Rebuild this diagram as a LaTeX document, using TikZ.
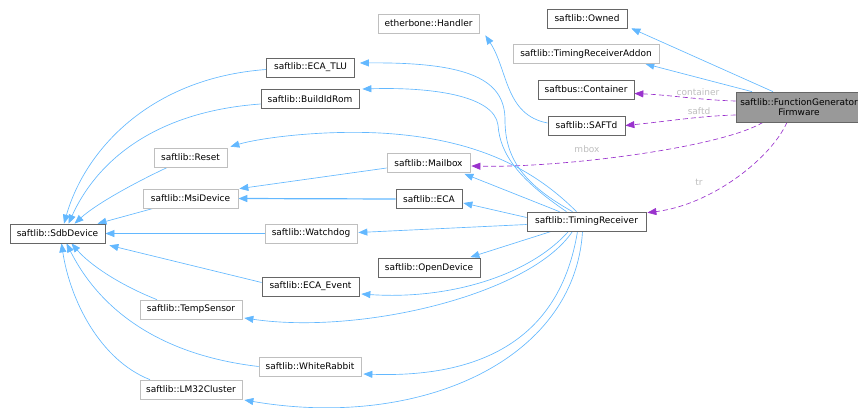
\documentclass[tikz,border=0pt]{standalone}
\usepackage{fontspec}
\setmainfont{DejaVu Sans}
\usetikzlibrary{arrows.meta,backgrounds}

\definecolor{edgeblue}{HTML}{63B8FF}
\definecolor{edgepurple}{HTML}{9A32CD}
\definecolor{darkframe}{HTML}{666666}
\definecolor{lightframe}{HTML}{BFBFBF}
\definecolor{labelgray}{HTML}{BEBEBE}
\definecolor{hilite}{HTML}{999999}

\tikzset{
  cls/.style={draw, fill=white, inner sep=0pt, minimum height=19pt,
              line width=0.7pt, font=\fontsize{9}{10.5}\selectfont},
  dk/.style={cls, draw=darkframe},
  lt/.style={cls, draw=lightframe},
  inherit/.style={draw=edgeblue, line width=0.65pt,
                  -{Triangle[length=9pt,width=7pt]}},
  uses/.style={draw=edgepurple, line width=0.65pt, dash pattern=on 5pt off 3pt,
               -{Triangle[length=9pt,width=7pt]}},
  elabel/.style={text=labelgray, inner sep=0pt, font=\fontsize{9}{10}\selectfont},
}

\begin{document}
\begin{tikzpicture}[x=1pt,y=-1pt]
\useasboundingbox (0,0) rectangle (858,407);

% class boxes
\node[dk, minimum width=80pt]  (owned)      at (587,18.5)   {saftlib::Owned};
\node[lt, minimum width=146pt] (tra)        at (586,54)     {saftlib::TimingReceiverAddon};
\node[dk, minimum width=96pt]  (container)  at (586,89.5)   {saftbus::Container};
\node[dk, minimum width=77pt]  (saftd)      at (586.5,125.5){saftlib::SAFTd};
\node[dk, fill=hilite, minimum width=126pt, minimum height=30pt, align=center]
                               (fg)         at (799,107)    {saftlib::FunctionGenerator\\Firmware};
\node[lt, minimum width=101pt] (handler)    at (428.5,23.5) {etherbone::Handler};
\node[dk, minimum width=88pt]  (ecatlu)     at (310.5,67.5) {saftlib::ECA\_TLU};
\node[dk, minimum width=98pt]  (buildid)    at (310,99)     {saftlib::BuildIdRom};
\node[lt, minimum width=73pt]  (reset)      at (190.5,157.5){saftlib::Reset};
\node[lt, minimum width=95pt]  (msi)        at (190.5,198.5){saftlib::MsiDevice};
\node[dk, minimum width=95pt]  (sdb)        at (57.5,233.5) {saftlib::SdbDevice};
\node[lt, minimum width=92pt]  (watchdog)   at (311,233.5)  {saftlib::Watchdog};
\node[lt, minimum width=83pt]  (mailbox)    at (428.5,163)  {saftlib::Mailbox};
\node[dk, minimum width=66pt]  (eca)        at (429,199)    {saftlib::ECA};
\node[dk, minimum width=119pt] (tr)         at (586.5,221.5){saftlib::TimingReceiver};
\node[dk, minimum width=102pt] (opendev)    at (429,268)    {saftlib::OpenDevice};
\node[dk, minimum width=97pt]  (ecaevent)   at (310.5,286.5){saftlib::ECA\_Event};
\node[lt, minimum width=102pt] (tempsensor) at (191,309.5)  {saftlib::TempSensor};
\node[lt, minimum width=102pt] (whiterabbit)at (310,366.5)  {saftlib::WhiteRabbit};
\node[lt, minimum width=102pt] (lm32)       at (191,389.5)  {saftlib::LM32Cluster};

% member labels
\node[elabel] (lcontainer) at (698,92)  {container};
\node[elabel] (lsaftd)     at (699,111) {saftd};
\node[elabel] (lmbox)      at (587,149) {mbox};
\node[elabel] (ltr)        at (699,182) {tr};

\begin{pgfonlayer}{background}
% FunctionGeneratorFirmware
\draw[inherit] ([xshift=-26pt]fg.north) -- ([xshift=4pt]owned.south east);
\draw[inherit] ([xshift=-47pt]fg.north) -- ([xshift=-14pt]tra.south east);
\draw[uses] ([yshift=6pt]fg.west) .. controls (700,100) and (670,95) .. ([yshift=-4pt]container.east);
\draw[uses] ([yshift=-8pt]fg.west) .. controls (700,116) and (670,121) .. (saftd.east);
\draw[uses] ([xshift=-36pt]fg.south) .. controls (720,148) and (560,168) .. ([xshift=1pt,yshift=-3pt]mailbox.east);
\draw[uses] ([xshift=-12pt]fg.south) .. controls (770,160) and (710,205) .. ([xshift=1pt,yshift=-1pt]tr.north east);

% SAFTd
\draw[inherit] ([yshift=2.5pt]saftd.west) .. controls (505,115) and (508,70) .. ([xshift=6pt,yshift=-2pt]handler.south east);

% TimingReceiver
\draw[inherit] ([xshift=-14pt]tr.north) .. controls (525,185) and (505,160) .. (505,120)
               .. controls (505,80) and (470,62) .. ([xshift=5pt,yshift=4.5pt]ecatlu.east);
\draw[inherit] ([xshift=-20pt]tr.north) .. controls (520,180) and (500,155) .. (498,125)
               .. controls (494,95) and (430,87) .. ([xshift=3pt,yshift=10pt]buildid.east);
\draw[inherit] ([xshift=-10pt]tr.north) .. controls (530,165) and (470,138) .. (380,133)
               .. controls (320,130) and (260,138) .. ([xshift=3pt,yshift=1pt]reset.north east);
\draw[inherit] ([xshift=-27pt]tr.north) -- ([xshift=-6pt,yshift=-1pt]mailbox.south east);
\draw[inherit] ([yshift=4pt]tr.west) -- ([xshift=1pt,yshift=-4pt]eca.east);
\draw[inherit] ([yshift=-3pt]tr.west) -- ([xshift=1pt,yshift=1pt]watchdog.east);
\draw[inherit] ([xshift=-35pt]tr.south) -- ([xshift=-10pt,yshift=1pt]opendev.north east);
\draw[inherit] ([xshift=-18pt]tr.south) .. controls (530,275) and (450,300) .. ([xshift=2pt,yshift=-7.5pt]ecaevent.east);
\draw[inherit] ([xshift=-14pt]tr.south) .. controls (530,295) and (360,335) .. ([xshift=2pt,yshift=-8.5pt]tempsensor.east);
\draw[inherit] ([xshift=-9pt]tr.south) .. controls (560,340) and (480,378) .. ([xshift=2pt,yshift=-7.5pt]whiterabbit.east);
\draw[inherit] ([xshift=-4pt]tr.south) .. controls (575,360) and (420,430) .. ([xshift=2pt,yshift=-10.5pt]lm32.east);

% Mailbox and ECA
\draw[inherit] ([yshift=-5pt]mailbox.west) -- ([xshift=1pt]msi.north east);
\draw[inherit, line width=1.2pt] (eca.west) -- (msi.east);

% SdbDevice
\draw[inherit] ([yshift=-2pt]ecatlu.west) .. controls (150,78) and (85,150) .. ([xshift=6.5pt]sdb.north);
\draw[inherit] ([yshift=-5pt]buildid.west) .. controls (150,112) and (95,165) .. ([xshift=11pt]sdb.north);
\draw[inherit] ([xshift=-23pt]reset.south) .. controls (130,185) and (95,205) .. ([xshift=17pt]sdb.north);
\draw[inherit] ([xshift=-37pt]msi.south) -- ([xshift=40pt]sdb.north);
\draw[inherit] (watchdog.west) -- (sdb.east);
\draw[inherit] ([yshift=4pt]ecaevent.west) -- ([xshift=4pt,yshift=-2pt]sdb.south east);
\draw[inherit] ([xshift=-34pt]tempsensor.north) .. controls (120,285) and (90,265) .. ([xshift=14pt]sdb.south);
\draw[inherit] (whiterabbit.west) .. controls (160,355) and (100,310) .. ([xshift=9pt]sdb.south);
\draw[inherit] ([xshift=-41pt]lm32.north) .. controls (100,360) and (70,300) .. ([xshift=4pt]sdb.south);
\end{pgfonlayer}
\end{tikzpicture}
\end{document}
